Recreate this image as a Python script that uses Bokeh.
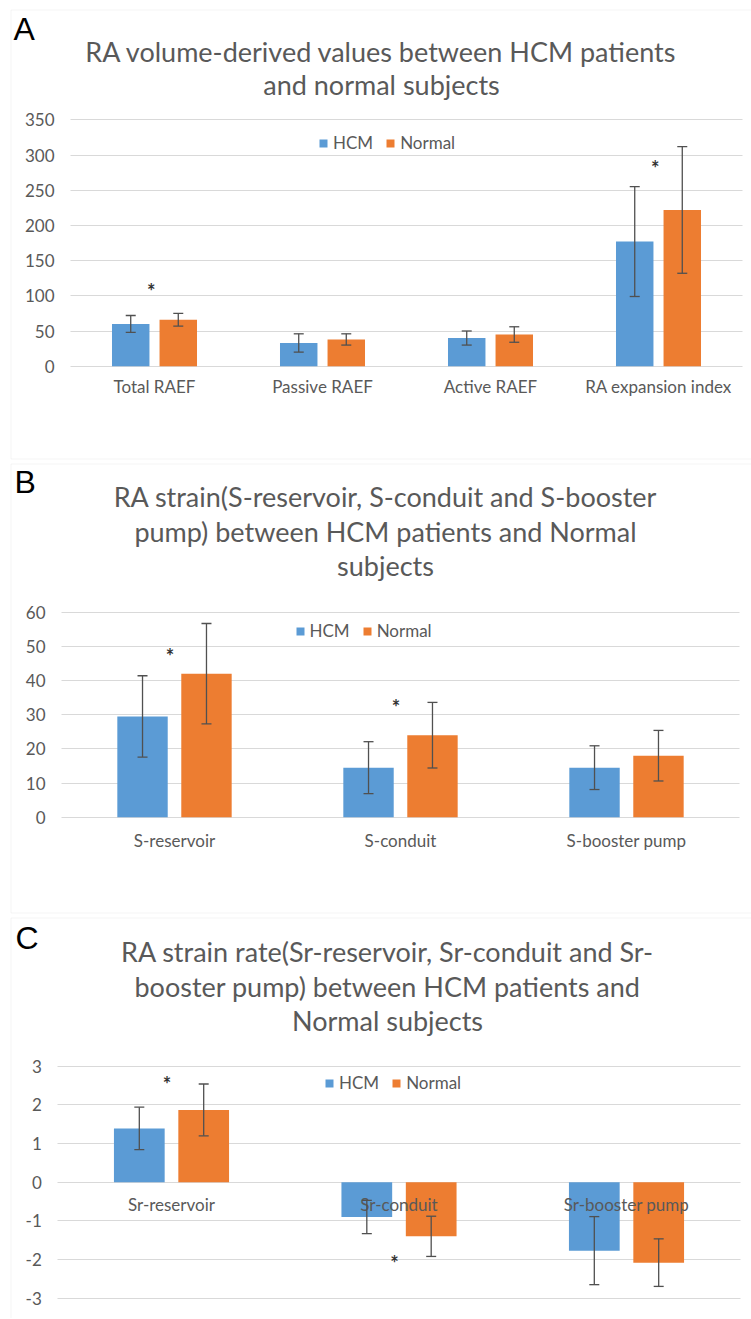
from bokeh.plotting import figure
from bokeh.models import (ColumnDataSource, Range1d, Whisker, TeeHead, Label, BoxAnnotation,
                          SingleIntervalTicker, FixedTicker, PrintfTickFormatter)
from bokeh.transform import dodge
from bokeh.layouts import column
from bokeh.core.properties import value
from bokeh.embed import file_html
from bokeh.resources import INLINE

# ---------------- data ----------------
series_names = ["HCM", "Normal"]

a_categories = ["Total RAEF", "Passive RAEF", "Active RAEF", "RA expansion index"]
a_hcm = [60, 33, 40, 177]
a_hcm_err = [12, 13, 10, 78]
a_normal = [66, 38, 45, 222]
a_normal_err = [9, 8, 11, 90]
a_star_cats = ["Total RAEF", "RA expansion index"]
a_star_y = [107, 282]
a_title = ["RA volume-derived values between HCM patients", "and normal subjects"]

b_categories = ["S-reservoir", "S-conduit", "S-booster pump"]
b_hcm = [29.5, 14.5, 14.5]
b_hcm_err = [11.9, 7.6, 6.4]
b_normal = [42.0, 24.0, 18.0]
b_normal_err = [14.7, 9.6, 7.4]
b_star_cats = ["S-reservoir", "S-conduit"]
b_star_y = [47.3, 32.2]
b_title = ["RA strain(S-reservoir, S-conduit and S-booster",
           "pump) between HCM patients and Normal", "subjects"]

c_categories = ["Sr-reservoir", "Sr-conduit", "Sr-booster pump"]
c_hcm = [1.39, -0.90, -1.77]
c_hcm_err = [0.55, 0.43, 0.88]
c_normal = [1.87, -1.40, -2.08]
c_normal_err = [0.67, 0.52, 0.615]
c_star_cats = ["Sr-reservoir", "Sr-conduit"]
c_star_y = [2.54, -2.08]
c_title = ["RA strain rate(Sr-reservoir, Sr-conduit and Sr-",
           "booster pump) between HCM patients and", "Normal subjects"]

# ---------------- style ----------------
HCM_COLOR = "#5B9BD5"
NORMAL_COLOR = "#ED7D31"
TEXT = "#595959"
GRID = "#D9D9D9"
ERR = "#505050"
FONT = "Lato"
W = 751
BW = 0.223
OFF = 0.1415
LABEL_SHIFT = 11  # label anchor correction (px)


def make_panel(letter, title, cats, hcm, hcm_err, normal, normal_err, star_cats, star_y,
               y_lo, y_hi, y_step, g):
    H = g["h"]
    # pixel geometry (canvas px, y down) -> data ranges
    k = (g["y0_px"] - g["yhi_px"]) / (y_hi - 0.0)          # px per unit
    ys = 0.0 - (H - g["y0_px"]) / k
    ye = 0.0 + g["y0_px"] / k
    xs = 0.5 - g["c0_px"] / g["step"]
    xe = 0.5 + (W - g["c0_px"]) / g["step"]

    p = figure(x_range=Range1d(xs, xe), y_range=Range1d(ys, ye),
               width=W, height=H, output_backend="svg", toolbar_location=None, min_border=0)
    p.outline_line_color = None
    p.background_fill_color = "white"
    p.border_fill_color = "white"

    def sy(y):  # canvas y (down) -> screen y (up from frame bottom)
        return H - y

    # panel box
    bx = g["box"]
    p.add_layout(BoxAnnotation(left=bx[0], right=bx[2], top=sy(bx[1]), bottom=sy(bx[3]),
                               left_units="screen", right_units="screen",
                               top_units="screen", bottom_units="screen",
                               fill_color=None, fill_alpha=0, line_color=GRID, line_width=1,
                               level="underlay"))

    xpos = [i + 0.5 for i in range(len(cats))]
    src = ColumnDataSource(dict(
        x=xpos, cat=cats, hcm=hcm, normal=normal,
        hcm_up=[m + e for m, e in zip(hcm, hcm_err)],
        hcm_lo=[m - e for m, e in zip(hcm, hcm_err)],
        normal_up=[m + e for m, e in zip(normal, normal_err)],
        normal_lo=[m - e for m, e in zip(normal, normal_err)],
    ))
    p.vbar(x=dodge("x", -OFF), top="hcm", bottom=0, width=BW, source=src,
           fill_color=HCM_COLOR, line_color=None, legend_label=series_names[0])
    p.vbar(x=dodge("x", OFF), top="normal", bottom=0, width=BW, source=src,
           fill_color=NORMAL_COLOR, line_color=None, legend_label=series_names[1])

    for off, up, lo in [(-OFF, "hcm_up", "hcm_lo"), (OFF, "normal_up", "normal_lo")]:
        p.add_layout(Whisker(source=src, base=dodge("x", off),
                             upper=up, lower=lo, dimension="height",
                             line_color=ERR, line_width=1.3, level="annotation",
                             upper_head=TeeHead(size=10, line_color=ERR, line_width=1.3),
                             lower_head=TeeHead(size=10, line_color=ERR, line_width=1.3)))

    star_src = ColumnDataSource(dict(x=[cats.index(c) + 0.5 for c in star_cats], y=star_y,
                                     t=["*"] * len(star_cats)))
    p.text(x=dodge("x", -0.02), y="y", text="t", source=star_src,
           text_font=value(FONT), text_font_size="20px", text_color="#333333",
           text_font_style="bold", text_align="center", text_baseline="middle")

    # axes
    tk = SingleIntervalTicker(interval=y_step, num_minor_ticks=0)
    p.yaxis.ticker = tk
    p.ygrid.ticker = tk
    p.yaxis.formatter = PrintfTickFormatter(format="%d")
    p.yaxis.bounds = (y_lo, y_hi)
    p.yaxis.fixed_location = 0
    p.ygrid.bounds = (y_lo, y_hi)
    p.ygrid.cross_bounds = (0, len(cats))
    p.xaxis.ticker = FixedTicker(ticks=xpos)
    p.xaxis.major_label_overrides = {x: c for x, c in zip(xpos, cats)}
    p.xaxis.fixed_location = 0
    for ax in (p.xaxis, p.yaxis):
        ax.axis_line_color = None
        ax.major_tick_line_color = None
        ax.minor_tick_line_color = None
        ax.major_tick_out = 0
        ax.major_tick_in = 0
        ax.major_label_text_font = FONT
        ax.major_label_text_font_size = "17px"
        ax.major_label_text_color = TEXT
    p.yaxis.major_label_standoff = 16
    p.xaxis.major_label_standoff = g["xstand"]
    p.xgrid.grid_line_color = None
    p.ygrid.grid_line_color = GRID
    p.ygrid.grid_line_width = 1

    # legend
    lg = p.legend[0]
    lg.orientation = "horizontal"
    lg.glyph_width = 10
    lg.glyph_height = 10
    lg.label_height = 20
    lg.label_standoff = 5
    lg.spacing = 12
    lg.padding = 0
    lg.margin = 0
    lg.border_line_color = None
    lg.background_fill_alpha = 0
    lg.label_text_font = FONT
    lg.label_text_font_size = "17px"
    lg.label_text_color = TEXT
    lx, lcy = g["legend"]
    lg.location = (lx, sy(lcy + 10))

    # letter + title
    p.add_layout(Label(x=g["letter"][0], y=sy(g["letter"][1] - LABEL_SHIFT),
                       x_units="screen", y_units="screen", text=letter,
                       text_font="Liberation Sans", text_font_size="32px", text_color="black",
                       text_align="left", text_baseline="alphabetic"))
    for line, base in zip(title, g["title_base"]):
        p.add_layout(Label(x=g["title_x"], y=sy(base - LABEL_SHIFT),
                           x_units="screen", y_units="screen", text=line,
                           text_font=FONT, text_font_size="27px", text_color=TEXT,
                           text_align="center", text_baseline="alphabetic"))
    return p


# geometry in canvas pixels of each panel (panel A top at page 0, B at 461, C at 915)
ga = dict(h=461, y0_px=365.7, yhi_px=119.3, c0_px=154, step=168,
          box=(10.5, 9.5, 800, 458.5), xstand=10,
          legend=(318, 143), letter=(13, 39), title_x=381, title_base=[62, 95])
gb = dict(h=454, y0_px=355.7, yhi_px=150.7, c0_px=174, step=226,
          box=(10.5, 2.5, 800, 451.5), xstand=13,
          legend=(294.5, 170), letter=(14, 31), title_x=385, title_base=[46, 81, 115])
gc = dict(h=403, y0_px=266.7, yhi_px=150.7, c0_px=171, step=227.5,
          box=(10.5, 2.5, 800, 420), xstand=12,
          legend=(324, 168.3), letter=(15, 33), title_x=387, title_base=[46.7, 82, 115.7])

pa = make_panel("A", a_title, a_categories, a_hcm, a_hcm_err, a_normal, a_normal_err,
                a_star_cats, a_star_y, 0, 350, 50, ga)
pb = make_panel("B", b_title, b_categories, b_hcm, b_hcm_err, b_normal, b_normal_err,
                b_star_cats, b_star_y, 0, 60, 10, gb)
pc = make_panel("C", c_title, c_categories, c_hcm, c_hcm_err, c_normal, c_normal_err,
                c_star_cats, c_star_y, -3, 3, 1, gc)

layout = column(pa, pb, pc, spacing=0)
open("out.html", "w").write(file_html(layout, INLINE))
